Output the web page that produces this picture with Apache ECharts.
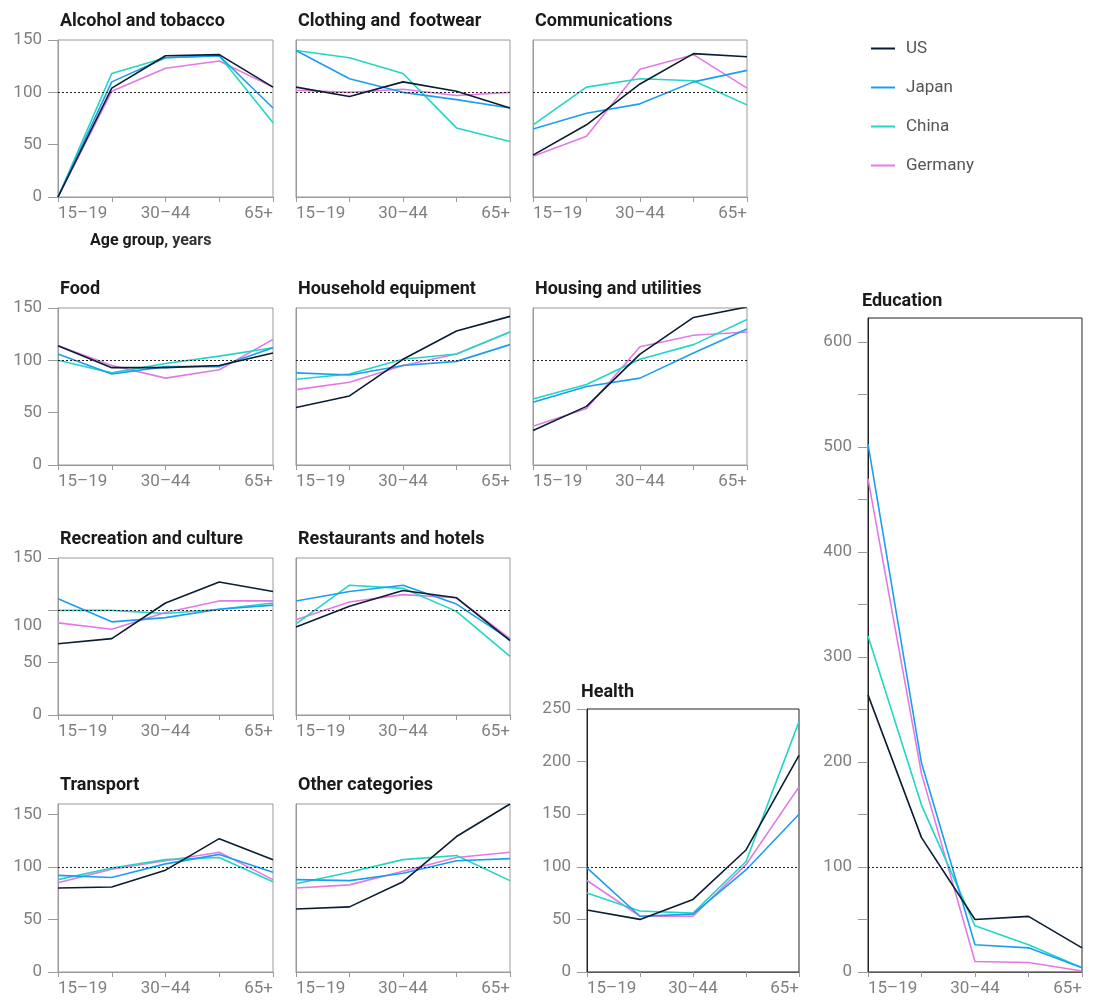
<!DOCTYPE html>
<html>
<head>
<meta charset="utf-8">
<script src="https://cdn.jsdelivr.net/npm/echarts@6/dist/echarts.min.js"></script>
<style>
  html, body { margin: 0; background: #fff; }
  #chart { width: 1104px; height: 1002px; }
</style>
</head>
<body>
<div id="chart"></div>
<script>
// consumption index by age group, 100 = average
const ageGroups = ['15–19', '20–29', '30–44', '45–64', '65+'];
const countries = ['US', 'Japan', 'China', 'Germany'];
const countryColors = ['#0b1d30', '#1a9ff0', '#22d6c4', '#e27ae6'];

// rows follow the countries order: US, Japan, China, Germany
const alcoholTobacco = [
    [0, 104, 135, 136, 105],
    [0, 110, 133, 135, 85],
    [0, 118, 133, 135, 71],
    [0, 101, 123, 130, 105],
];
const clothingFootwear = [
    [105, 96, 110, 101, 85],
    [140, 113, 100, 93, 85],
    [140, 133, 118, 66, 53],
    [102, 100, 103, 97, 100],
];
const communications = [
    [40, 69, 108, 137, 134],
    [65, 80, 89, 110, 121],
    [69, 105, 113, 111, 88],
    [39, 58, 122, 136, 104],
];
const food = [
    [114, 93, 93, 95, 107],
    [106, 87, 94, 94, 112],
    [100, 88, 97, 104, 112],
    [114, 95, 83, 91, 120],
];
const householdEquipment = [
    [55, 66, 101, 128, 142],
    [88, 86, 95, 99, 115],
    [82, 87, 101, 106, 127],
    [72, 79, 95, 106, 127],
];
const housingUtilities = [
    [33, 56, 106, 141, 151],
    [60, 75, 83, 107, 130],
    [63, 77, 101, 115, 139],
    [37, 54, 113, 124, 127],
];
const recreationCulture = [
    [68, 73, 107, 127, 118],
    [111, 89, 93, 101, 105],
    [100, 100, 97, 101, 107],
    [88, 82, 98, 109, 109],
];
const restaurantsHotels = [
    [84, 104, 119, 112, 71],
    [109, 118, 124, 106, 72],
    [87, 124, 121, 99, 56],
    [91, 108, 115, 112, 73],
];
const transport = [
    [80, 81, 97, 127, 107],
    [92, 90, 103, 112, 95],
    [88, 99, 107, 109, 86],
    [85, 98, 106, 114, 88],
];
const otherCategories = [
    [60, 62, 86, 129, 160],
    [88, 87, 94, 106, 108],
    [84, 95, 107, 111, 87],
    [80, 83, 96, 109, 114],
];
const health = [
    [59, 50, 69, 116, 206],
    [99, 53, 55, 97, 150],
    [75, 58, 56, 105, 238],
    [87, 53, 53, 102, 176],
];
const education = [
    [264, 128, 50, 53, 23],
    [503, 199, 26, 23, 4],
    [320, 159, 44, 26, 4],
    [470, 189, 10, 9, 1],
];

const FONT = 'Roboto, "Noto Sans", sans-serif';
const GRAY = '#808080';

// panel placement on the page
const panels = [
    {name: 'Alcohol and tobacco', data: alcoholTobacco, x: 58, y: 40, w: 215, h: 157, max: 150, yLabels: true},
    {name: 'Clothing and  footwear', data: clothingFootwear, x: 296, y: 40, w: 214, h: 157, max: 150},
    {name: 'Communications', data: communications, x: 533, y: 40, w: 214, h: 157, max: 150},
    {name: 'Food', data: food, x: 58, y: 308, w: 215, h: 157, max: 150, yLabels: true},
    {name: 'Household equipment', data: householdEquipment, x: 296, y: 308, w: 214, h: 157, max: 150},
    {name: 'Housing and utilities', data: housingUtilities, x: 533, y: 308, w: 214, h: 157, max: 150},
    {name: 'Recreation and culture', data: recreationCulture, x: 58, y: 558, w: 215, h: 157, max: 150, yLabels: true, shift100: true},
    {name: 'Restaurants and hotels', data: restaurantsHotels, x: 296, y: 558, w: 214, h: 157, max: 150},
    {name: 'Transport', data: transport, x: 58, y: 804, w: 215, h: 168, max: 160, yLabels: true},
    {name: 'Other categories', data: otherCategories, x: 296, y: 804, w: 214, h: 168, max: 160},
    {name: 'Health', data: health, x: 587, y: 709, w: 212, h: 263, max: 250, yLabels: true, dark: true},
    {name: 'Education', data: education, x: 868, y: 318, w: 214, h: 654, max: 623, yLabels: true, dark: true, every100: true},
];

function buildOption() {
    const grid = [], xAxis = [], yAxis = [], series = [], title = [];

    panels.forEach((p, i) => {
        const edge = p.dark ? '#222' : '#9a9a9a';
        grid.push({
            left: p.x, top: p.y, width: p.w, height: p.h,
            show: true, borderColor: edge, borderWidth: 1,
            backgroundColor: 'transparent',
            outerBoundsMode: 'none',
        });
        title.push({
            text: p.name,
            left: p.x + (p.dark ? -6 : 2),
            top: p.y - (p.dark ? 26 : 28),
            padding: 0,
            textStyle: {fontFamily: FONT, fontSize: 18, fontWeight: 'bold', color: '#1a1a1a'},
        });
        xAxis.push({
            type: 'category',
            gridIndex: i,
            data: ageGroups,
            boundaryGap: false,
            axisLine: {lineStyle: {color: p.dark ? '#555' : '#9a9a9a', width: 1}},
            axisTick: {show: true, length: 5, alignWithLabel: true, interval: 0, lineStyle: {color: '#9a9a9a'}},
            axisLabel: {
                interval: 1, margin: 8, fontFamily: FONT, fontSize: 17, color: GRAY,
                alignMinLabel: 'left', alignMaxLabel: 'right',
            },
            splitLine: {show: false},
        });
        yAxis.push({
            type: 'value',
            gridIndex: i,
            min: 0,
            max: p.max,
            interval: 50,
            axisLine: {show: true, lineStyle: {color: edge, width: 1}},
            axisTick: {show: !!p.yLabels, length: 10, lineStyle: {color: '#9a9a9a'}},
            axisLabel: {
                show: !!p.yLabels,
                showMaxLabel: p.max % 50 === 0,
                margin: 16,
                fontFamily: FONT, fontSize: 17, color: GRAY,
                formatter: (v) => {
                    const n = Math.round(Number(v));
                    if (p.every100 && n % 100 !== 0) return '';
                    if (p.shift100 && n === 100) return '{low|100}';
                    return String(n);
                },
                rich: {low: {padding: [30, 0, 0, 0], fontFamily: FONT, fontSize: 17, color: GRAY}},
            },
            splitLine: {show: false},
        });

        // draw US last so it sits on top
        for (let c = countries.length - 1; c >= 0; c--) {
            const s = {
                name: countries[c],
                type: 'line',
                xAxisIndex: i,
                yAxisIndex: i,
                data: p.data[c],
                symbol: 'none',
                lineStyle: {color: countryColors[c], width: 1.6},
                itemStyle: {color: countryColors[c]},
                emphasis: {disabled: true},
            };
            if (c === countries.length - 1) {
                s.markLine = {
                    silent: true,
                    symbol: ['none', 'none'],
                    label: {show: false},
                    lineStyle: {color: '#222', type: [2, 2], width: 1},
                    data: [{yAxis: 100}],
                };
            }
            series.push(s);
        }
    });

    title.push({
        text: '{b|Age group}{n|, years}',
        left: 90, top: 233, padding: 0,
        textStyle: {
            rich: {
                b: {fontFamily: FONT, fontSize: 16, fontWeight: 'bold', color: '#1a1a1a'},
                n: {fontFamily: FONT, fontSize: 16, color: '#333'},
            },
        },
    });

    return {
        animation: false,
        backgroundColor: '#fff',
        title: title,
        legend: {
            data: countries,
            orient: 'vertical',
            left: 866,
            top: 35,
            itemWidth: 24,
            itemHeight: 2,
            itemGap: 22,
            icon: 'path://M0,0H24V2H0Z',
            textStyle: {fontFamily: FONT, fontSize: 17, color: '#555', padding: [0, 0, 0, 6]},
        },
        grid: grid,
        xAxis: xAxis,
        yAxis: yAxis,
        series: series,
    };
}

const chart = echarts.init(document.getElementById('chart'));
chart.setOption(buildOption());
</script>
</body>
</html>
